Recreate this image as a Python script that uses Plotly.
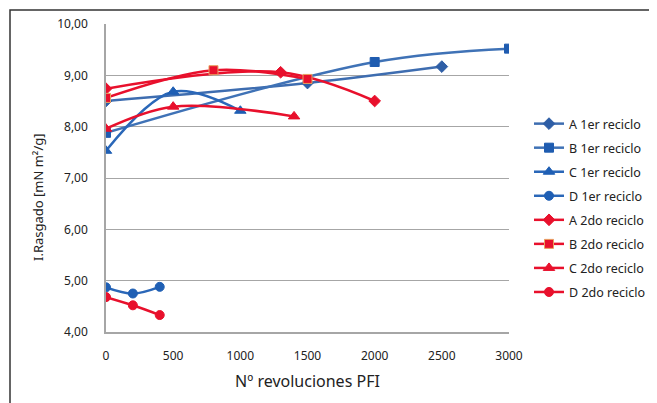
import plotly.graph_objects as go

# ---- data ----
names = ["A 1er reciclo", "B 1er reciclo", "C 1er reciclo", "D 1er reciclo",
         "A 2do reciclo", "B 2do reciclo", "C 2do reciclo", "D 2do reciclo"]

x_A1 = [0, 1500, 2500]
y_A1 = [8.50, 8.85, 9.17]
x_B1 = [0, 2000, 3000]
y_B1 = [7.88, 9.26, 9.52]
x_C1 = [0, 500, 1000]
y_C1 = [7.53, 8.68, 8.31]
x_D1 = [0, 200, 400]
y_D1 = [4.87, 4.75, 4.88]

x_A2 = [0, 1300, 2000]
y_A2 = [8.74, 9.06, 8.50]
x_B2 = [0, 800, 1500]
y_B2 = [8.56, 9.10, 8.93]
x_C2 = [0, 500, 1400]
y_C2 = [7.96, 8.39, 8.20]
x_D2 = [0, 200, 400]
y_D2 = [4.68, 4.52, 4.33]

x_ticks = [0, 500, 1000, 1500, 2000, 2500, 3000]
y_ticks = [4, 5, 6, 7, 8, 9, 10]

x_title = "Nº revoluciones PFI"
y_title = "I.Rasgado [mN m²/g]"

xs = [x_A1, x_B1, x_C1, x_D1, x_A2, x_B2, x_C2, x_D2]
ys = [y_A1, y_B1, y_C1, y_D1, y_A2, y_B2, y_C2, y_D2]

# ---- styles ----
BLUE_L = ["#3E6DB0", "#3F72B6", "#2A67B8", "#2A67B8"]
BLUE_M = ["#2E5EA6", "#1F5CB0", "#1F5FB4", "#1F5FB4"]
RED = "#E8102C"
symbols = ["diamond", "square", "triangle-up", "circle"]
sizes = [9, 9, 10, 9]

fig = go.Figure()
for i in range(8):
    grp = i % 4
    if i < 4:
        lc, mc, mlc = BLUE_L[grp], BLUE_M[grp], BLUE_M[grp]
    else:
        lc, mc, mlc = RED, RED, RED
    if i == 5:
        mlc = "#E8A060"
    fig.add_trace(go.Scatter(
        x=xs[i], y=ys[i], name=names[i], mode="lines+markers",
        line=dict(color=lc, width=2.5, shape="spline", smoothing=1.0),
        marker=dict(symbol=symbols[grp], size=sizes[grp], color=mc,
                    line=dict(color=mlc, width=1)),
        legendgroup=f"g{i}",
    ))

FONT = "Noto Sans"
OFF = 8  # page body margin
W, H = 657 - OFF, 403 - OFF
L, T = 106 - OFF, 24 - OFF
R = W - (509 - OFF)
B = H - (332 - OFF)
pw, ph = W - L - R, H - T - B

def px_x(p):
    return (p - OFF - L) / pw

def px_y(p):
    return (H - B - (p - OFF)) / ph

fig.update_layout(
    width=W, height=H,
    margin=dict(l=L, r=R, t=T, b=B, pad=0, autoexpand=False),
    paper_bgcolor="white", plot_bgcolor="white",
    separators=",.",
    font=dict(family=FONT, size=12, color="#222222"),
    showlegend=True,
    legend=dict(x=px_x(529), y=px_y(109), xanchor="left", yanchor="top",
                font=dict(family=FONT, size=12.5, color="#222222"),
                tracegroupgap=4.8, itemwidth=30, bgcolor="rgba(0,0,0,0)"),
    xaxis=dict(range=[0, 3000], tickvals=x_ticks, tickformat="d",
               showgrid=False, zeroline=False, showline=True,
               linecolor="#A6A6A6", linewidth=1.5,
               ticks="", ticklabelstandoff=12, automargin=False,
               tickfont=dict(family=FONT, size=12),
               title=dict(text=x_title, standoff=13,
                          font=dict(family=FONT, size=16))),
    yaxis=dict(range=[4, 10], tickvals=y_ticks, tickformat=".2f",
               showgrid=True, gridcolor="#A6A6A6", gridwidth=1.2,
               zeroline=False, showline=True,
               linecolor="#A6A6A6", linewidth=1.5,
               ticks="", ticklabelstandoff=14, automargin=False,
               tickfont=dict(family=FONT, size=12)),
    annotations=[dict(text=y_title, textangle=-90, showarrow=False,
                      xref="paper", yref="paper",
                      x=px_x(38), y=px_y(197), xanchor="center", yanchor="middle",
                      font=dict(family=FONT, size=13, color="#222222"))],
    shapes=[dict(type="rect", xref="paper", yref="paper",
                 x0=px_x(10), x1=px_x(680), y0=px_y(430), y1=px_y(10),
                 line=dict(color="#333333", width=1.5),
                 fillcolor="rgba(0,0,0,0)", layer="below")],
)

fig.write_html("out.html")
